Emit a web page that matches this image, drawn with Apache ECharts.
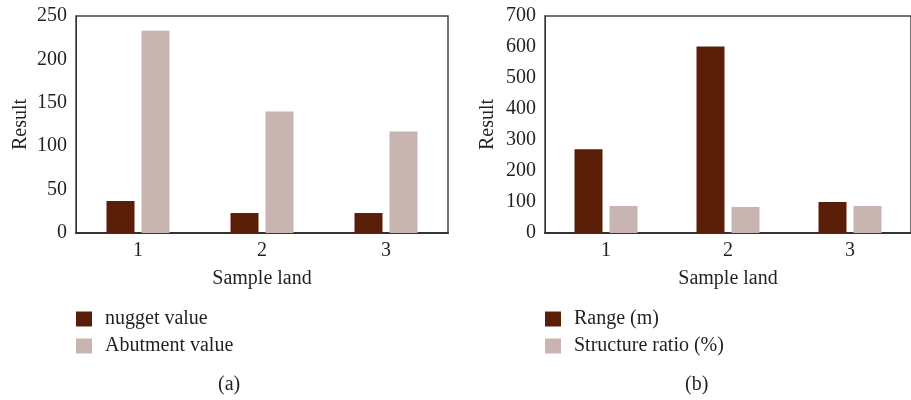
<!DOCTYPE html>
<html>
<head>
<meta charset="utf-8">
<script src="https://cdn.jsdelivr.net/npm/echarts@6/dist/echarts.min.js"></script>
<style>
html,body{margin:0;padding:0;background:#fff;}
#chart{width:911px;height:400px;}
</style>
</head>
<body>
<div id="chart"></div>
<script>
const categories = ['1', '2', '3'];
const nuggetValue = [37, 23, 23];
const abutmentValue = [233, 140, 117];
const rangeM = [270, 602, 100];
const structureRatio = [87, 84, 87];
const leftTicks = {min: 0, max: 250, interval: 50};
const rightTicks = {min: 0, max: 700, interval: 100};

const DARK = '#5a1e08';
const LIGHT = '#c8b4b0';
const FONT = 'Liberation Serif';
const TXT = '#231f20';

const chart = echarts.init(document.getElementById('chart'), null, {renderer: 'canvas'});

function xAxis(gi) {
  return {
    type: 'category', gridIndex: gi, data: categories,
    name: 'Sample land', nameLocation: 'middle', nameGap: 36,
    nameTextStyle: {fontFamily: FONT, fontSize: 20, color: TXT},
    axisLine: {lineStyle: {color: '#333', width: 2}},
    axisTick: {show: false},
    axisLabel: {fontFamily: FONT, fontSize: 20, color: TXT, margin: 8}
  };
}
function yAxis(gi, t, gap) {
  return {
    type: 'value', gridIndex: gi, min: t.min, max: t.max, interval: t.interval,
    name: 'Result', nameLocation: 'middle', nameGap: gap,
    nameTextStyle: {fontFamily: FONT, fontSize: 20, color: TXT},
    axisLine: {show: true, lineStyle: {color: '#333', width: 1}},
    axisTick: {show: false},
    splitLine: {show: false},
    axisLabel: {fontFamily: FONT, fontSize: 20, color: TXT, margin: 9}
  };
}
function legend(left, names) {
  return {
    left: left, top: 309, orient: 'vertical', padding: 0,
    itemWidth: 16, itemHeight: 15, itemGap: 7,
    icon: 'rect',
    data: names,
    textStyle: {fontFamily: FONT, fontSize: 20, color: TXT, lineHeight: 20, padding: [0, 0, 0, 8]}
  };
}
function bar(name, data, color, gi) {
  return {
    type: 'bar', name: name, data: data, xAxisIndex: gi, yAxisIndex: gi,
    barWidth: 28, barGap: '25%',
    itemStyle: {color: color}, emphasis: {disabled: true}
  };
}

chart.setOption({
  animation: false,
  backgroundColor: '#fff',
  grid: [
    {left: 76, top: 16, width: 372, height: 217, show: true, borderColor: '#444', borderWidth: 1.5, backgroundColor: 'transparent'},
    {left: 545, top: 16, width: 372, height: 217, show: true, borderColor: '#444', borderWidth: 1.5, backgroundColor: 'transparent'}
  ],
  xAxis: [xAxis(0), xAxis(1)],
  yAxis: [yAxis(0, leftTicks, 45), yAxis(1, rightTicks, 47)],
  legend: [
    legend(76, ['nugget value', 'Abutment value']),
    legend(545, ['Range (m)', 'Structure ratio (%)'])
  ],
  series: [
    bar('nugget value', nuggetValue, DARK, 0),
    bar('Abutment value', abutmentValue, LIGHT, 0),
    bar('Range (m)', rangeM, DARK, 1),
    bar('Structure ratio (%)', structureRatio, LIGHT, 1)
  ],
  graphic: [
    {type: 'text', left: 218, top: 375, style: {text: '(a)', font: '20px "Liberation Serif"', fill: TXT}},
    {type: 'text', left: 685, top: 375, style: {text: '(b)', font: '20px "Liberation Serif"', fill: TXT}}
  ]
});
</script>
</body>
</html>
